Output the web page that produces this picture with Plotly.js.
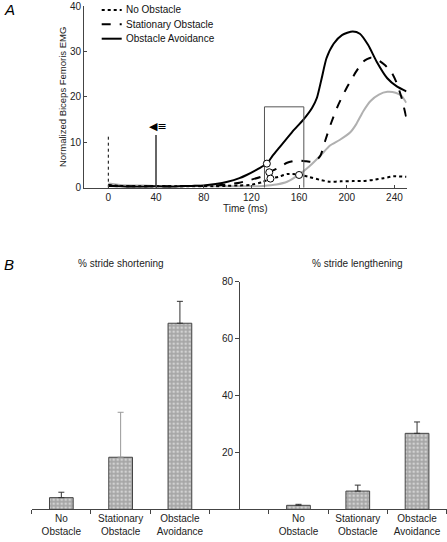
<!DOCTYPE html>
<html>
<head>
<meta charset="utf-8">
<script src="https://cdn.plot.ly/plotly-3.0.1.min.js"></script>
<style>html,body{margin:0;padding:0;background:#fff;}#chart{width:447px;height:542px;}</style>
</head>
<body>
<div id="chart"></div>
<script>
// ---------- Panel A data: normalized biceps femoris EMG vs time (ms) ----------
const timeNoObstacle = [0,10,20,30,40,50,60,70,80,90,100,110,119,129,136,143,150,160,168,178,186,195,205,214,222,231,239,250];
const emgNoObstacle  = [0.6,0.4,0.3,0.3,0.3,0.3,0.3,0.3,0.3,0.3,0.4,0.5,0.6,1.2,2.0,2.4,3.0,2.9,2.4,1.7,1.3,1.4,1.45,1.5,1.7,2.1,2.5,2.4];

const timeStationary = [0,10,20,30,40,50,60,70,80,90,100,110,119,129,135,143,150,158,166,173,178,182,187,193,200,208,214,220,225,232,238,242,246,250];
const emgStationary  = [0.5,0.3,0.3,0.3,0.3,0.3,0.3,0.4,0.4,0.5,0.7,1.1,1.7,2.5,3.4,4.4,5.5,6.0,5.8,5.7,7.1,10.4,14.3,18.3,22.0,25.6,27.8,28.6,28.3,27.0,25.2,23.0,19.8,15.4];

const timeAvoidance = [0,10,20,30,40,50,60,70,80,90,100,110,116,126,133,138,143,154,164,171,175,179,183,189,196,205,211,218,225,234,242,250];
const emgAvoidance  = [0.4,0.3,0.2,0.2,0.3,0.2,0.3,0.4,0.5,0.8,1.3,2.1,2.8,4.2,5.3,7.1,8.7,12.2,15.1,17.6,19.8,24.1,28.5,31.7,33.6,34.4,33.9,31.4,27.8,24.1,22.3,21.2];

const timeGray = [0,10,20,30,40,50,60,70,80,90,100,110,120,130,141,150,161,169,178,186,194,203,208,214,220,227,234,241,246,250];
const emgGray  = [0.9,0.6,0.5,0.5,0.4,0.4,0.4,0.4,0.4,0.3,0.3,0.3,0.3,0.4,0.7,1.3,3.1,4.8,7.1,9.3,10.5,12.2,14.0,16.9,19.1,20.5,21.1,20.9,20.2,18.7];

// EMG onset markers (open circles)
const onsetTimes  = [133, 135, 136, 160];
const onsetValues = [5.3, 3.4, 2.0, 2.8];

// event markers: cue at 0 ms (dotted), obstacle/perturbation at 40 ms (solid)
const cueTimes   = [0, 40];
const cueHeights = [11.8, 11.6];

// analysis window (box)
const windowStart = 131, windowEnd = 164, windowTop = 17.8;

const timeTicks = [0,40,80,120,160,200,240];
const emgTicks  = [0,10,20,30,40];

// legend entries
const legendNames  = ['No Obstacle', 'Stationary Obstacle', 'Obstacle Avoidance'];

// ---------- Panel B data: stride modification (%) ----------
const barCategories   = ['No<br>Obstacle', 'Stationary<br>Obstacle', 'Obstacle<br>Avoidance'];
const shorteningMean  = [4.1, 18.3, 65.4];
const shorteningErr   = [1.9, 15.8, 7.7];
const lengtheningMean = [1.4, 6.4, 26.7];
const lengtheningErr  = [0.35, 2.1, 4.0];
const percentTicks    = [20, 40, 60, 80];

// ---------- build ----------
const FONT = 'Liberation Sans, Arial, sans-serif';
const W = 447, H = 542;
const px = v => v / W;
const py = v => 1 - v / H;

const traces = [];
const lineBase = {type:'scatter', mode:'lines', xaxis:'x', yaxis:'y', hoverinfo:'skip', showlegend:false};
const dashes = ['dot', 'dash', 'solid'];

traces.push(Object.assign({}, lineBase, {
  x: timeGray, y: emgGray,
  line:{color:'#b0b0b0', width:2, shape:'spline', smoothing:0.6}
}));
[[timeNoObstacle, emgNoObstacle], [timeStationary, emgStationary], [timeAvoidance, emgAvoidance]].forEach((s, i) => {
  traces.push(Object.assign({}, lineBase, {
    x: s[0], y: s[1], name: legendNames[i],
    line:{color:'#000', width:2, dash:dashes[i], shape:'spline', smoothing:0.6}
  }));
});

// event lines
const cueStyles = [{color:'#000', width:1, dash:'dot'}, {color:'#333', width:1.5, dash:'solid'}];
cueTimes.forEach((t, i) => {
  traces.push(Object.assign({}, lineBase, {
    x:[t, t], y:[0, cueHeights[i]], line:cueStyles[i]
  }));
});

// analysis window box
traces.push(Object.assign({}, lineBase, {
  x:[windowStart, windowStart, windowEnd, windowEnd],
  y:[0, windowTop, windowTop, 0],
  line:{color:'#555', width:1}
}));

// onset circles
traces.push({
  type:'scatter', mode:'markers', xaxis:'x', yaxis:'y', hoverinfo:'skip', showlegend:false,
  x: onsetTimes, y: onsetValues,
  marker:{symbol:'circle', size:7, color:'#fff', line:{color:'#000', width:1}}
});

// bars
const groups = [
  {mean: shorteningMean, err: shorteningErr, offset: 0, errColors:['#333','#999','#333']},
  {mean: lengtheningMean, err: lengtheningErr, offset: 4, errColors:['#333','#333','#333']}
];
const barPositions = [];
const barLabels = [];
groups.forEach(g => {
  barCategories.forEach((c, i) => {
    barPositions.push(i + g.offset);
    barLabels.push(c);
    traces.push({
      type:'bar', xaxis:'x2', yaxis:'y2', hoverinfo:'skip', showlegend:false,
      x:[i + g.offset], y:[g.mean[i]], width:0.4,
      marker:{color:'#ababab', line:{color:'#444', width:1},
        pattern:{shape:'.', fgcolor:'#d2d2d2', bgcolor:'#a6a6a6', size:4, solidity:0.35}},
      error_y:{type:'data', symmetric:false, array:[g.err[i]], arrayminus:[0],
        color:g.errColors[i], thickness:1, width:3}
    });
  });
});
const boundaries = [];
for (let b = -0.5; b <= 6.5; b += 1) boundaries.push(b);

const tickFont = {family:FONT, size:10, color:'#222'};

// hand-drawn legend (compact like the original)
const legendRowY = [10, 24.3, 38.7];
const shapes = legendRowY.map((yy, i) => ({
  type:'line', xref:'paper', yref:'paper', x0:px(101.7), x1:px(121.7), y0:py(yy), y1:py(yy),
  line:{color:'#000', width:2, dash:dashes[i]}
}));
const legendAnn = legendRowY.map((yy, i) => ({
  text: legendNames[i], xref:'paper', yref:'paper', x:px(123.5), y:py(yy), xanchor:'left', yanchor:'middle',
  showarrow:false, font:{family:FONT, size:10, color:'#111'}
}));

const layout = {
  width:W, height:H,
  margin:{l:0, r:0, t:0, b:0, pad:0},
  paper_bgcolor:'#fff', plot_bgcolor:'rgba(0,0,0,0)',
  font:{family:FONT, size:10, color:'#222'},
  showlegend:false,
  shapes: shapes,
  xaxis:{domain:[px(84), px(406.7)], range:[-20.4, 250.3], anchor:'y',
    tickmode:'array', tickvals:timeTicks, ticks:'inside', ticklen:3, tickcolor:'#444',
    showline:true, linecolor:'#444', linewidth:1, showgrid:false, zeroline:false,
    tickfont:tickFont, automargin:false,
    title:{text:'Time (ms)', font:{family:FONT, size:10, color:'#222'}, standoff:0}},
  yaxis:{domain:[py(187.7), py(6)], range:[0, 40], anchor:'x',
    tickmode:'array', tickvals:emgTicks, ticks:'inside', ticklen:3, tickcolor:'#444',
    ticklabeloverflow:'allow',
    showline:true, linecolor:'#444', linewidth:1, showgrid:false, zeroline:false,
    tickfont:tickFont, automargin:false,
    title:{text:'Normalized Biceps Femoris EMG', font:{family:FONT, size:9.5, color:'#222'}, standoff:1}},
  xaxis2:{domain:[px(31.7), px(446.7)], range:[-0.5, 6.5], anchor:'y2',
    tickmode:'array', tickvals:barPositions, ticktext:barLabels, ticks:'',
    minor:{tickmode:'array', tickvals:boundaries, ticks:'outside', ticklen:4, tickcolor:'#444'},
    showline:true, linecolor:'#444', linewidth:1, showgrid:false, zeroline:false,
    tickfont:tickFont, automargin:false},
  yaxis2:{domain:[py(509.3), py(281.7)], range:[0, 80], anchor:'free', position:px(239.2),
    tickmode:'array', tickvals:percentTicks, ticks:'outside', ticklen:4, tickcolor:'#444',
    showline:true, linecolor:'#444', linewidth:1, showgrid:false, zeroline:false,
    tickfont:tickFont, automargin:false},
  annotations:legendAnn.concat([
    {text:'<i>A</i>', xref:'paper', yref:'paper', x:px(2), y:py(-1), xanchor:'left', yanchor:'top',
      showarrow:false, font:{family:FONT, size:15, color:'#000'}},
    {text:'<i>B</i>', xref:'paper', yref:'paper', x:px(2), y:py(254), xanchor:'left', yanchor:'top',
      showarrow:false, font:{family:FONT, size:15, color:'#000'}},
    {text:'% stride shortening', xref:'paper', yref:'paper', x:px(121), y:py(263), xanchor:'center', yanchor:'middle',
      showarrow:false, font:{family:FONT, size:10, color:'#222'}},
    {text:'% stride lengthening', xref:'paper', yref:'paper', x:px(357), y:py(263), xanchor:'center', yanchor:'middle',
      showarrow:false, font:{family:FONT, size:10, color:'#222'}},
    {text:'◀≡', xref:'x', yref:'y', x:cueTimes[1] + 2, y:cueHeights[1] + 1.9, xanchor:'center', yanchor:'middle',
      showarrow:false, font:{family:'DejaVu Sans', size:11, color:'#000'}}
  ])
};

Plotly.newPlot('chart', traces, layout, {staticPlot:true, displayModeBar:false});
</script>
</body>
</html>
